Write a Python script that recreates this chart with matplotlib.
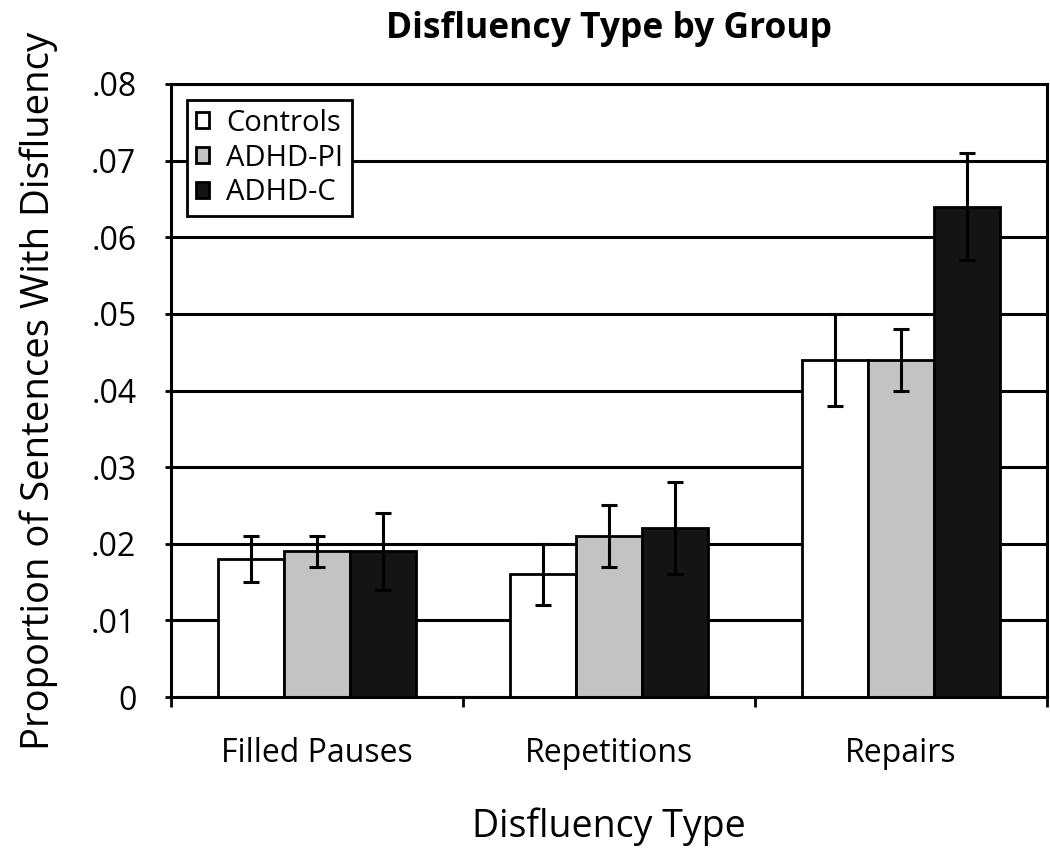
import matplotlib
matplotlib.use("Agg")
import matplotlib.pyplot as plt
from matplotlib.ticker import FuncFormatter, FixedLocator
from matplotlib.patches import Patch
import numpy as np

categories = ["Filled Pauses", "Repetitions", "Repairs"]
groups = ["Controls", "ADHD-PI", "ADHD-C"]
controls = [0.018, 0.016, 0.044]
adhd_pi = [0.019, 0.021, 0.044]
adhd_c = [0.019, 0.022, 0.064]
controls_err = [0.003, 0.004, 0.006]
adhd_pi_err = [0.002, 0.004, 0.004]
adhd_c_err = [0.005, 0.006, 0.007]

colors = ["#ffffff", "#c3c3c3", "#141414"]
plt.rcParams['font.family'] = ['Open Sans', 'DejaVu Sans']

fig = plt.figure(figsize=(10.5, 8.51), dpi=100)
ax = fig.add_axes([171/1050, 1-697/851, 876/1050, 613/851])

x = np.arange(len(categories))
w = 0.226
series = [controls, adhd_pi, adhd_c]
errs = [controls_err, adhd_pi_err, adhd_c_err]
ax.set_axisbelow(True)
ax.yaxis.grid(True, color='black', linewidth=2.2)
for i, (vals, er) in enumerate(zip(series, errs)):
    ax.bar(x + (i - 1) * w, vals, width=w, color=colors[i], edgecolor='black',
           linewidth=2.0, zorder=2, label=groups[i])
for i, (vals, er) in enumerate(zip(series, errs)):
    ax.errorbar(x + (i - 1) * w, vals, yerr=er, fmt='none', ecolor='black',
                elinewidth=2.2, capsize=6, capthick=2.2, zorder=3)

ax.set_xlim(-0.5, 2.5)
ax.set_ylim(0, 0.08)
ax.set_yticks(np.arange(0, 0.081, 0.01))
ax.yaxis.set_major_formatter(FuncFormatter(lambda v, p: "0" if abs(v) < 1e-9 else ("%.2f" % v)[1:]))
ax.set_xticks(x)
ax.set_xticklabels(categories, fontsize=23)
ax.tick_params(axis='x', which='major', length=0, pad=29)
ax.xaxis.set_minor_locator(FixedLocator([-0.5, 0.5, 1.5, 2.5]))
ax.tick_params(axis='x', which='minor', length=7, width=2, direction='out')
ax.tick_params(axis='y', which='major', length=8, width=2, direction='inout', labelsize=23, pad=21)
for s in ax.spines.values():
    s.set_linewidth(2.2)

ax.set_ylabel("Proportion of Sentences With Disfluency", fontsize=27.5, labelpad=24)
ax.set_xlabel("Disfluency Type", fontsize=27, labelpad=27)
ax.set_title("Disfluency Type by Group", fontsize=25.5, fontweight='bold', pad=33)

handles = [Patch(facecolor=c, edgecolor='black', linewidth=2) for c in colors]
leg = ax.legend(handles, groups, loc='upper left', bbox_to_anchor=(0.018, 0.974),
                fontsize=21, frameon=True, fancybox=False, handlelength=0.45,
                handleheight=0.45, handletextpad=0.6, borderpad=0.3, labelspacing=0.2,
                borderaxespad=0.0)
leg.get_frame().set_edgecolor('black')
leg.get_frame().set_linewidth(2)
leg.get_frame().set_alpha(1)

fig.savefig("out.png", dpi=100)
